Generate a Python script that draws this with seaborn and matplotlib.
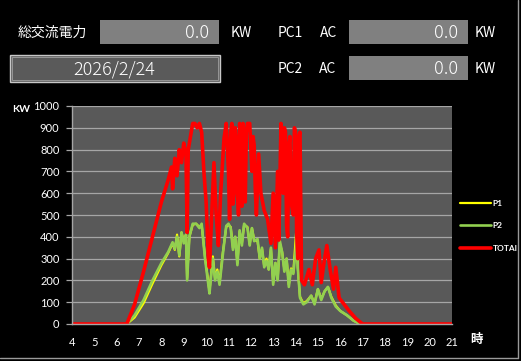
import matplotlib
matplotlib.use("Agg")
import matplotlib.pyplot as plt
import matplotlib.patches as patches
import matplotlib.lines as mlines
import pandas as pd
import seaborn as sns

# 時刻(時)と発電量(KW)
total_hour = [4.0, 6.45, 6.8, 7.2, 7.6, 8.0, 8.3, 8.45, 8.5, 8.6, 8.7, 8.8, 8.9, 9.0, 9.1,
              9.15, 9.2, 9.3, 9.4, 9.5, 9.6, 9.7, 9.8, 9.9, 10.0, 10.1, 10.15, 10.25, 10.35,
              10.45, 10.55, 10.65, 10.8, 10.9, 11.0, 11.05, 11.1, 11.15, 11.2, 11.25, 11.3,
              11.35, 11.4, 11.45, 11.5, 11.55, 11.6, 11.65, 11.7, 11.75, 11.8, 11.85, 11.95,
              12.05, 12.1, 12.15, 12.2, 12.25, 12.35, 12.45, 12.6, 12.75, 12.9,
              13.0, 13.1, 13.2, 13.25, 13.35, 13.4, 13.45, 13.5, 13.55, 13.6, 13.65, 13.7,
              13.75, 13.8, 13.9, 13.95, 14.0, 14.05, 14.1, 14.15,
              14.2, 14.27, 14.4, 14.6, 14.75, 14.9, 15.05, 15.15, 15.3, 15.4, 15.55, 15.7,
              15.8, 15.95, 16.1, 16.4, 16.7, 17.0, 21.0]
total_kw = [0, 0, 90, 240, 400, 560, 660, 720, 620, 760, 680, 800, 740, 830, 780,
            420, 800, 860, 920, 920, 900, 920, 880, 700, 560, 300, 260, 500, 740,
            500, 360, 600, 850, 920, 700, 480, 880, 920, 550, 600, 900,
            840, 620, 500, 920, 760, 540, 920, 850, 560, 880, 920, 920,
            700, 860, 820, 620, 500, 780, 600, 520, 480, 370,
            600, 350, 700, 385, 920, 650, 600, 900, 880, 450, 400, 820,
            860, 560, 500, 900, 880, 420, 300, 860,
            880, 200, 180, 250, 180, 300, 340, 190, 300, 360, 250, 160,
            260, 120, 100, 60, 25, 0, 0]

p_hour = [6.45, 6.8, 7.2, 7.6, 8.0, 8.3, 8.5, 8.6, 8.7, 8.8, 8.9, 9.0, 9.1, 9.15, 9.25,
          9.4, 9.55, 9.7, 9.8, 9.95, 10.1, 10.15, 10.3, 10.4, 10.5, 10.6, 10.75, 10.9, 11.0,
          11.1, 11.2, 11.3, 11.4, 11.5, 11.6, 11.7, 11.85, 11.95, 12.05, 12.15, 12.3, 12.4,
          12.5, 12.6, 12.7, 12.8, 12.9, 13.0, 13.1, 13.2, 13.3, 13.4, 13.5, 13.6, 13.7, 13.8,
          13.9, 14.05, 14.1, 14.2, 14.35, 14.5, 14.7, 14.85, 15.0, 15.15, 15.3, 15.45, 15.6,
          15.8, 16.0, 16.3, 16.6, 16.9]
p1_kw = [0, 30, 95, 185, 270, 325, 370, 340, 410, 310, 420, 380, 410, 210, 400,
         455, 460, 445, 455, 310, 190, 150, 310, 210, 250, 190, 330, 445, 455,
         445, 350, 400, 280, 425, 370, 455, 445, 365, 440, 385, 380, 300,
         345, 265, 300, 250, 345, 190, 280, 205, 370, 330, 250, 300, 180, 255,
         235, 455, 260, 125, 95, 105, 130, 95, 160, 115, 150, 170, 125,
         85, 60, 40, 15, 0]
p2_kw = [0, 40, 110, 200, 280, 330, 375, 345, 400, 315, 420, 370, 410, 200, 400,
         460, 460, 440, 460, 300, 180, 140, 300, 200, 240, 180, 320, 450, 460,
         440, 340, 400, 270, 430, 360, 460, 440, 360, 440, 380, 390, 300,
         350, 260, 290, 250, 350, 180, 280, 200, 380, 330, 240, 300, 170, 250,
         230, 380, 260, 120, 90, 100, 130, 90, 160, 110, 150, 170, 120,
         80, 60, 40, 15, 0]

hour_ticks = list(range(4, 22))
kw_ticks = list(range(0, 1001, 100))

df_total = pd.DataFrame({"hour": total_hour, "kw": total_kw})
df_p1 = pd.DataFrame({"hour": p_hour, "kw": p1_kw})
df_p2 = pd.DataFrame({"hour": p_hour, "kw": p2_kw})

sns.set_style("dark")
plt.rcParams["font.family"] = ["Noto Sans CJK JP", "DejaVu Sans"]

W, H = 521, 361
fig = plt.figure(figsize=(W / 100, H / 100), dpi=100, facecolor="black")


def fx(x):
    return x / W


def fy(y):
    return 1 - y / H


# 上部の表示パネル
def value_box(x0, y0, x1, y1, text):
    fig.patches.append(patches.Rectangle((fx(x0), fy(y1)), fx(x1 - x0), (y1 - y0) / H,
                                         transform=fig.transFigure, facecolor="#808080",
                                         edgecolor="none"))
    fig.text(fx(x1 - 10), fy((y0 + y1) / 2 + 1), text, color="white", fontsize=13,
             ha="right", va="center", fontweight="light")


lab = dict(color="white", fontsize=10, va="center")
fig.text(fx(18), fy(33), "総交流電力", ha="left", **lab)
value_box(100, 20, 219, 44, "0.0")
fig.text(fx(231), fy(33), "KW", ha="left", **lab)
fig.text(fx(278), fy(33), "PC1", ha="left", **lab)
fig.text(fx(320), fy(33), "AC", ha="left", **lab)
value_box(349, 20, 468, 44, "0.0")
fig.text(fx(475), fy(33), "KW", ha="left", **lab)

fig.text(fx(278), fy(69), "PC2", ha="left", **lab)
fig.text(fx(319), fy(69), "AC", ha="left", **lab)
value_box(349, 56, 468, 80, "0.0")
fig.text(fx(475), fy(69), "KW", ha="left", **lab)

fig.patches.append(patches.Rectangle((fx(10), fy(82)), fx(210), 27 / H,
                                     transform=fig.transFigure, facecolor="#5a5a5a",
                                     edgecolor="#c8c8c8", linewidth=1))
fig.patches.append(patches.Rectangle((fx(12), fy(80)), fx(206), 23 / H,
                                     transform=fig.transFigure, facecolor="none",
                                     edgecolor="#a0a0a0", linewidth=0.6))
fig.text(fx(114), fy(70), "2026/2/24", color="white", fontsize=13, ha="center",
         va="center", fontweight="light")

# 枠線
fig.lines.append(mlines.Line2D([fx(518), fx(518)], [fy(358), 1], transform=fig.transFigure,
                               color="#9a9a9a", linewidth=1))
fig.lines.append(mlines.Line2D([0, fx(518)], [fy(358), fy(358)], transform=fig.transFigure,
                               color="#9a9a9a", linewidth=1))

# グラフ
ax = fig.add_axes([fx(72), fy(324), fx(452 - 72), (324 - 106) / H])
ax.set_facecolor("#595959")

sns.lineplot(data=df_p1, x="hour", y="kw", ax=ax, color="#ffff00", linewidth=1.6,
             label="P1", estimator=None, sort=False)
sns.lineplot(data=df_p2, x="hour", y="kw", ax=ax, color="#92d050", linewidth=1.9,
             label="P2", estimator=None, sort=False)
sns.lineplot(data=df_total, x="hour", y="kw", ax=ax, color="#ff0000", linewidth=2.6,
             label="TOTAl", estimator=None, sort=False)

ax.set_xlim(4, 21)
ax.set_ylim(0, 1000)
ax.set_xticks(hour_ticks)
ax.set_yticks(kw_ticks)
ax.grid(axis="y", color="#a6a6a6", linewidth=0.9)
ax.grid(axis="x", visible=False)
ax.set_xlabel("")
ax.set_ylabel("")
for side in ["top", "right"]:
    ax.spines[side].set_visible(False)
for side in ["left", "bottom"]:
    ax.spines[side].set_visible(True)
    ax.spines[side].set_color("#a6a6a6")
    ax.spines[side].set_linewidth(1)
ax.tick_params(axis="y", colors="#a6a6a6", labelcolor="white", length=4, width=0.9,
               direction="out", pad=5, labelsize=8, left=True)
ax.tick_params(axis="x", colors="white", labelcolor="white", length=0, pad=9, labelsize=8)
for t in ax.get_xticklabels() + ax.get_yticklabels():
    t.set_family(["Lato", "DejaVu Sans"])

fig.text(fx(12), fy(109), "KW", color="white", fontsize=7.5, fontweight="bold",
         ha="left", va="center", family=["Lato", "DejaVu Sans"])
fig.text(fx(470), fy(339), "時", color="white", fontsize=9, fontweight="bold",
         ha="left", va="center")

leg = ax.legend(loc="upper left", bbox_to_anchor=(fx(452), fy(192)),
                bbox_transform=fig.transFigure, frameon=False,
                handlelength=3.8, labelspacing=1.9, handletextpad=0.2,
                prop={"weight": "bold", "family": ["Lato", "DejaVu Sans"], "size": 6})
for txt in leg.get_texts():
    txt.set_color("white")

fig.savefig("out.png", dpi=100, facecolor="black")
